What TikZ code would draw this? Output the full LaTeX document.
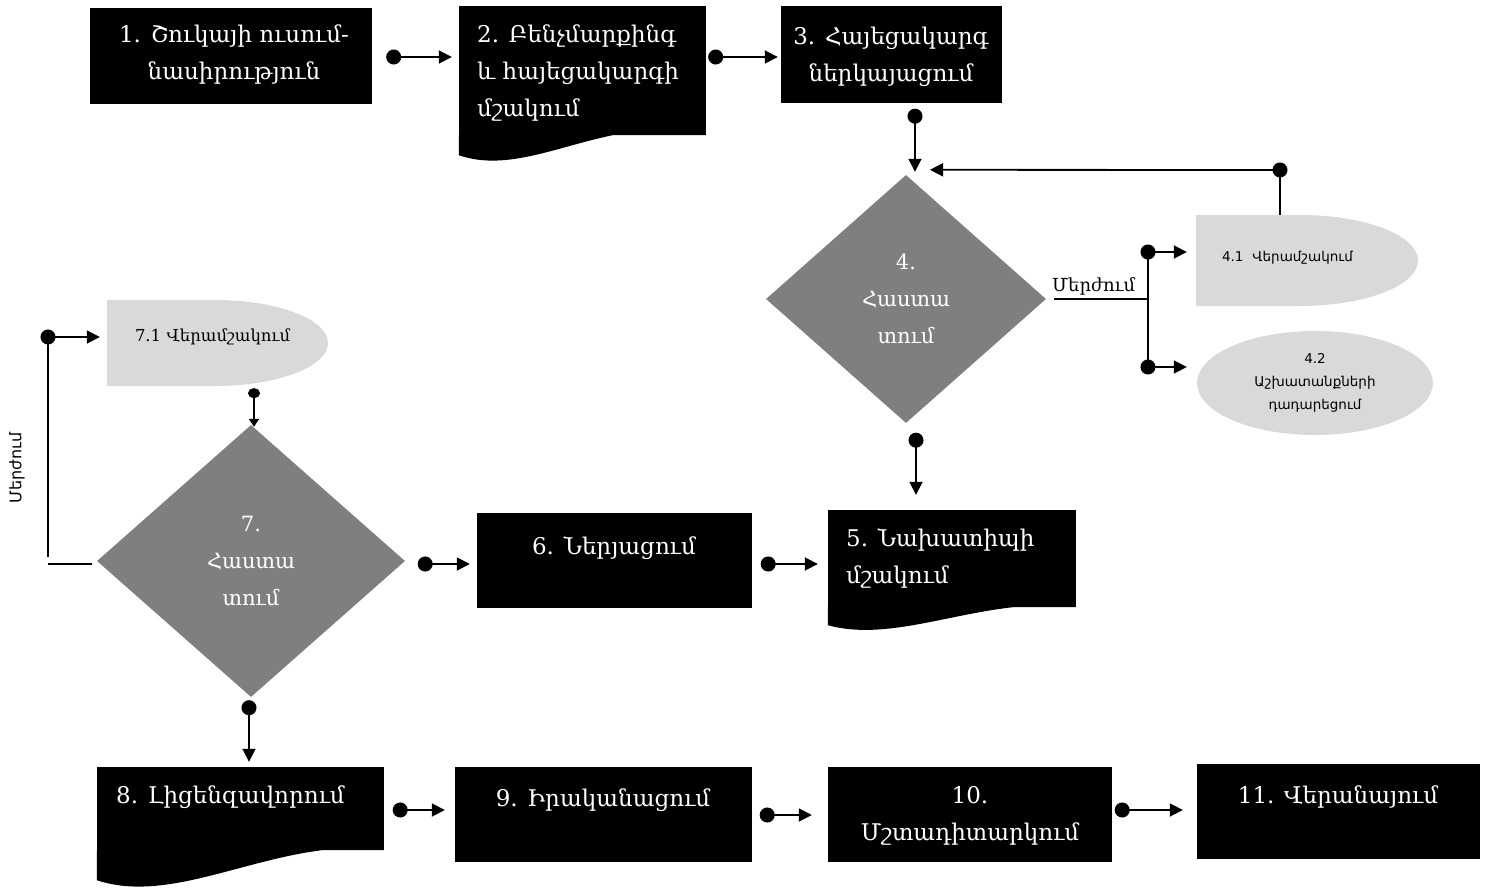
\documentclass[tikz,border=0pt]{standalone}
\usepackage{fontspec}
\setmainfont{DejaVu Serif}
\newfontfamily\armsans{DejaVu Sans}
\usetikzlibrary{shapes.geometric,arrows.meta,calc}
\definecolor{dgrey}{HTML}{7F7F7F}
\definecolor{lgrey}{HTML}{D9D9D9}

\begin{document}
\begin{tikzpicture}[x=1pt,y=-1pt,
    blackbox/.style={fill=black, inner sep=0pt},
    boxtext/.style={text=white, align=center, inner sep=0pt, font=\fontsize{23}{37}\selectfont},
    decision/.style={diamond, fill=dgrey, inner sep=0pt, text=white, align=center, font=\fontsize{21}{37}\selectfont},
    greytext/.style={inner sep=0pt, align=center, font=\armsans\fontsize{13.5}{23}\selectfont},
    link/.style={line width=1.8pt},
    flow/.style={line width=1.8pt, {Circle[length=15pt,width=15pt]}-{Triangle[length=13pt,width=13pt]}},
    flowsmall/.style={line width=1.6pt, {Circle[length=10pt,width=12pt]}-{Triangle[length=8pt,width=10pt]}}]
\useasboundingbox (0,0) rectangle (1489,891);

% top row
\node[blackbox, minimum width=282pt, minimum height=96pt] (b1) at (231,56) {};
\node[boxtext] (t1) at (234,55) {1. Շուկայի ուսում-\\նասիրություն};

\node[blackbox, minimum width=247pt, minimum height=129pt] (b2) at (582.5,70.5) {};
\fill (b2.south west) -- ++(0,20) .. controls (530,180) and (610,110) .. (b2.south east) -- cycle;
\node[boxtext, align=left, anchor=west] (t2) at (477,73) {2. Բենչմարքինգ\\և հայեցակարգի\\մշակում};

\node[blackbox, minimum width=221pt, minimum height=97pt] (b3) at (891.5,54.5) {};
\node[boxtext] (t3) at (891,57) {3. Հայեցակարգ\\ներկայացում};

% decision 4
\node[decision, aspect=1.13, minimum width=280pt, minimum height=248pt] (d4) at (906,299) {4.\\Հաստա\\տում};

\fill[lgrey] (1196,215) -- (1300,215) arc[start angle=-90, end angle=90, x radius=118, y radius=45.5] -- (1196,306) -- cycle;
\node[greytext, minimum width=222pt, minimum height=91pt, text width=170pt, align=left, inner xsep=26pt, text depth=9pt] (s41) at (1307,260.5) {4.1\ \ Վերամշակում};
\node[greytext, ellipse, fill=lgrey, minimum width=236pt, minimum height=104pt] (s42) at (1315,383) {4.2\\Աշխատանքների\\դադարեցում};

\coordinate (fb) at (1280,170);
\coordinate (j0) at (1148,299);
\coordinate (j1) at (1148,252);
\coordinate (j2) at (1148,367);

\draw[flow] ($(b1.east)+(14,1)$) -- ($(b2.west)+(-7,-13.5)$);
\draw[flow] ($(b2.east)+(2,-13.5)$) -- ($(b3.west)+(-3,2.5)$);
\draw[flow] ($(b3.south)+(23.5,5.5)$) -- ($(d4.north)+(9,-3)$);
\draw[link] ($(s41.north)+(-27,0)$) -- (fb);
\draw[flow] ($(fb)+(7.5,0)$) -- ($(d4.north)+(24,-5)$);
\draw[link] ($(d4.east)+(8,0)$) -- (j0) node[pos=0.42, above, font=\fontsize{18}{20}\selectfont] (rej4) {Մերժում};
\draw[link] (j1) -- (j2);
\draw[flow] ($(j1)+(-7.5,0)$) -- ($(s41.west)+(-9,-8.5)$);
\draw[flow] ($(j2)+(-7.5,0)$) -- ($(s42.west)+(-10,-16)$);

% middle row
\node[blackbox, minimum width=248pt, minimum height=97pt] (b5) at (952,558.5) {};
\fill (b5.south west) -- ++(0,18) .. controls (900,645) and (985,595) .. (b5.south east) -- cycle;
\node[boxtext, align=left, anchor=west] (t5) at (846,558) {5. Նախատիպի\\մշակում};

\node[blackbox, minimum width=275pt, minimum height=95pt] (b6) at (614.5,560.5) {};
\node[boxtext] (t6) at (614,548) {6. Ներյացում};

\node[decision, aspect=1.13, minimum width=308pt, minimum height=272pt] (d7) at (251,561) {7.\\Հաստա\\տում};

\fill[lgrey] (107,300) -- (215,300) arc[start angle=-90, end angle=90, x radius=113, y radius=43] -- (107,386) -- cycle;
\node[minimum width=221pt, minimum height=86pt, text width=165pt, align=left, inner xsep=28pt, inner ysep=0pt, text depth=16pt, font=\fontsize{16.5}{18}\selectfont] (s71) at (217.5,343) {7.1 Վերամշակում};
\node[rotate=90, inner sep=0pt, font=\armsans\fontsize{16}{18}\selectfont] (rej7) at (17,468) {Մերժում};

\coordinate (k1) at (48,564);
\coordinate (k2) at (48,337);

\draw[flow] ($(d4.south)+(10,9.5)$) -- ($(b5.north)+(-36,-15)$);
\draw[flow] ($(b6.east)+(8.5,3.5)$) -- ($(b5.west)+(-10,5.5)$);
\draw[flow] ($(d7.east)+(12.5,3)$) -- ($(b6.west)+(-7,3.5)$);
\draw[link] ($(d7.west)+(-5,3)$) -- (k1);
\draw[link] ($(k1)+(0,-7)$) -- (k2);
\draw[flow] ($(k2)+(-7.5,0)$) -- ($(s71.west)+(-7,-6)$);
\draw[flowsmall] ($(s71.south)+(36.5,2)$) -- ($(d7.north)+(3,2)$);

% bottom row
\node[blackbox, minimum width=287pt, minimum height=83pt] (b8) at (240.5,808.5) {};
\fill (b8.south west) -- ++(0,30) .. controls (180,908) and (280,835) .. (b8.south east) -- cycle;
\node[boxtext, anchor=west] (t8) at (116,797) {8. Լիցենզավորում};

\node[blackbox, minimum width=297pt, minimum height=95pt] (b9) at (603.5,814.5) {};
\node[boxtext] (t9) at (603,800) {9. Իրականացում};

\node[blackbox, minimum width=284pt, minimum height=95pt] (b10) at (970,814.5) {};
\node[boxtext] (t10) at (970,816) {10.\\Մշտադիտարկում};

\node[blackbox, minimum width=283pt, minimum height=95pt] (b11) at (1338.5,811.5) {};
\node[boxtext] (t11) at (1338,797) {11. Վերանայում};

\draw[flow] ($(d7.south)+(-2,3)$) -- ($(b8.north)+(8.5,-5)$);
\draw[flow] ($(b8.east)+(8.5,1.5)$) -- ($(b9.west)+(-10,-4.5)$);
\draw[flow] ($(b9.east)+(7.5,0.5)$) -- ($(b10.west)+(-16,0.5)$);
\draw[flow] ($(b10.east)+(2.5,-4.5)$) -- ($(b11.west)+(-14,-1.5)$);

\end{tikzpicture}
\end{document}
